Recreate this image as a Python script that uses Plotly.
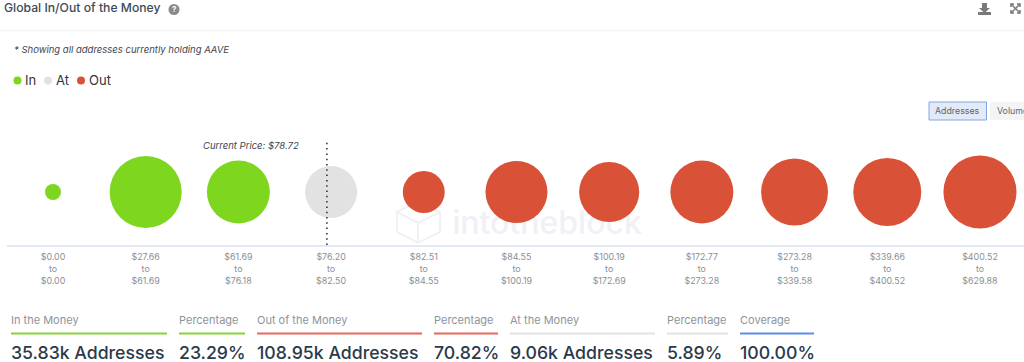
import plotly.graph_objects as go

W, H = 1024, 362

in_ranges = ["$0.00<br>to<br>$0.00", "$27.66<br>to<br>$61.69", "$61.69<br>to<br>$76.18"]
at_ranges = ["$76.20<br>to<br>$82.50"]
out_ranges = ["$82.51<br>to<br>$84.55", "$84.55<br>to<br>$100.19", "$100.19<br>to<br>$172.69",
              "$172.77<br>to<br>$273.28", "$273.28<br>to<br>$339.58", "$339.66<br>to<br>$400.52",
              "$400.52<br>to<br>$629.88"]
in_addresses = [860, 17400, 13300]
at_addresses = [9060]
out_addresses = [5900, 12900, 12100, 13300, 15000, 15500, 17900]
current_price_pos = 2.955

GREEN, GREY, RED = "#7ed61f", "#e2e2e2", "#d95238"
FONT = "Inter"
SIZEREF = 2 * 9060 / 52 ** 2


def px(x):
    return x / W


def py(y):
    return 1 - y / H


fig = go.Figure()
start = 0
for name, labels, vals, col in [("In", in_ranges, in_addresses, GREEN),
                                ("At", at_ranges, at_addresses, GREY),
                                ("Out", out_ranges, out_addresses, RED)]:
    idx = list(range(start, start + len(vals)))
    start += len(vals)
    fig.add_trace(go.Scatter(
        x=idx, y=[0] * len(vals), mode="markers", name=name, showlegend=False,
        customdata=labels,
        marker=dict(size=vals, sizemode="area", sizeref=SIZEREF, color=col, opacity=1,
                    line=dict(width=0)),
        hovertemplate="%{customdata}<br>%{marker.size}<extra></extra>",
    ))

all_labels = in_ranges + at_ranges + out_ranges
shapes = []
annos = []


def text(x, y, s, size=11, color="#8d949c", anchor="left", **kw):
    annos.append(dict(xref="paper", yref="paper", x=px(x), y=py(y), text=s, showarrow=False,
                      xanchor=anchor, yanchor="middle", borderpad=0, borderwidth=0,
                      font=dict(family=FONT, size=size, color=color, weight=kw.pop("weight", 400)), **kw))


def hline(x0, x1, y, color, width=2):
    shapes.append(dict(type="line", xref="paper", yref="paper", x0=px(x0), x1=px(x1), y0=py(y), y1=py(y),
                       line=dict(color=color, width=width), layer="below"))


def path(points, color, width=2, fill=None):
    d = "M " + " L ".join(f"{px(a):.5f},{py(b):.5f}" for a, b in points)
    if fill:
        d += " Z"
    shapes.append(dict(type="path", xref="paper", yref="paper", path=d, layer="below",
                       line=dict(color=color, width=width), fillcolor=fill or "rgba(0,0,0,0)"))


def circle(cx, cy, r, color):
    shapes.append(dict(type="circle", xref="paper", yref="paper", x0=px(cx - r), x1=px(cx + r),
                       y0=py(cy + r), y1=py(cy - r), fillcolor=color, line=dict(width=0), layer="below"))


# header
text(4, 8, "Global In/Out of the Money", size=12.2, color="#3d4a57", weight=500)
circle(174, 9.5, 5.5, "#8a8a8a")
text(174, 9.5, "?", size=8, color="#ffffff", anchor="center", weight=700)
hline(0, W, 30.5, "#f3f4f6", 1.5)

# download icon
path([(982, 3), (987, 3), (987, 8), (990, 8), (984.5, 13), (979, 8), (982, 8)], "#7a7a7a", 0, "#7a7a7a")
path([(978, 12), (991, 12), (991, 15), (978, 15)], "#7a7a7a", 0, "#7a7a7a")
# expand icon
for a, b in [((1011, 4), (1020, 13)), ((1020, 4), (1011, 13))]:
    path([a, b], "#7a7a7a", 1.5)
for pts in [[(1011, 7), (1011, 4), (1014, 4)], [(1017, 4), (1020, 4), (1020, 7)],
            [(1011, 10), (1011, 13), (1014, 13)], [(1017, 13), (1020, 13), (1020, 10)]]:
    path(pts, "#7a7a7a", 1.5)

# note + legend
text(14, 49, "<i>* Showing all addresses currently holding AAVE</i>", size=9.5, color="#3d4550")
for cx, label, tx, col in [(17.5, "In", 25, GREEN), (48, "At", 56, GREY), (81, "Out", 89, RED)]:
    circle(cx, 80.5, 4, col)
    text(tx, 80.5, label, size=13, color="#30363c")

# buttons
shapes.append(dict(type="rect", xref="paper", yref="paper", x0=px(929), x1=px(986.5), y0=py(120), y1=py(102),
                   fillcolor="#e3e9f5", line=dict(color="#7ea6ea", width=1), layer="below"))
text(957.5, 111, "Addresses", size=8.8, color="#5a6672", anchor="center")
shapes.append(dict(type="rect", xref="paper", yref="paper", x0=px(990), x1=px(1026), y0=py(120), y1=py(102),
                   fillcolor="#f4f4f4", line=dict(width=0), layer="below"))
text(997, 111, "Volume", size=8.8, color="#5a6672")

# watermark (below the bubbles)
WM = "#f0f1f6"
path([(397, 212), (418, 201), (440, 212), (440, 232), (418, 243), (397, 232), (397, 212), (418, 223), (440, 212)],
     WM, 2)
path([(418, 223), (418, 243)], WM, 2)
shapes.append(dict(type="rect", xref="paper", yref="paper", x0=px(452), x1=px(642), y0=py(238), y1=py(204),
                   line=dict(width=0), fillcolor="rgba(0,0,0,0)", layer="below",
                   label=dict(text="intotheblock", textposition="middle center",
                              font=dict(family=FONT, size=32, color=WM, weight=500))))

# current price
shapes.append(dict(type="line", xref="x", yref="paper", x0=current_price_pos, x1=current_price_pos,
                   y0=py(245), y1=py(140), line=dict(color="#1f2a38", width=1.5, dash="1.5px,3.8px"), layer="above"))
text(203, 145, "<i>Current Price: $78.72</i>", size=9.5, color="#3d4550")

# summary
for x0, x1, title, value, col in [
    (11, 167, "In the Money", "35.83k Addresses", "#86d33a"),
    (179, 245, "Percentage", "23.29%", "#86d33a"),
    (257, 422, "Out of the Money", "108.95k Addresses", "#e8695a"),
    (434, 498, "Percentage", "70.82%", "#e8695a"),
    (510, 655, "At the Money", "9.06k Addresses", "#e3e3e3"),
    (667, 728, "Percentage", "5.89%", "#e3e3e3"),
    (740, 814, "Coverage", "100.00%", "#5a8ce8"),
]:
    text(x0, 320, title, size=11, color="#8d949c")
    hline(x0, x1, 333.5, col, 2)
    text(x0, 352, value, size=17.7, color="#2b3a4a", weight=500)

fig.update_layout(
    width=W, height=H, margin=dict(l=0, r=0, t=0, b=0), autosize=False,
    paper_bgcolor="#ffffff", plot_bgcolor="rgba(0,0,0,0)", showlegend=False,
    font=dict(family=FONT), shapes=shapes, annotations=annos,
    xaxis=dict(domain=[px(7), 1], range=[-0.496, 10.475], tickmode="array",
               tickvals=list(range(len(all_labels))), ticktext=all_labels, ticks="outside", ticklen=3,
               tickcolor="rgba(0,0,0,0)", showgrid=False,
               zeroline=False, showline=True, linecolor="#e3e8f4", linewidth=1.5,
               tickfont=dict(family=FONT, size=8.9, color="#8a8f96")),
    yaxis=dict(domain=[py(245), py(139)], range=[-1, 1], visible=False, fixedrange=True),
)

fig.write_html("out.html", config=dict(displayModeBar=False),
               post_script="document.body.style.margin='0';")
